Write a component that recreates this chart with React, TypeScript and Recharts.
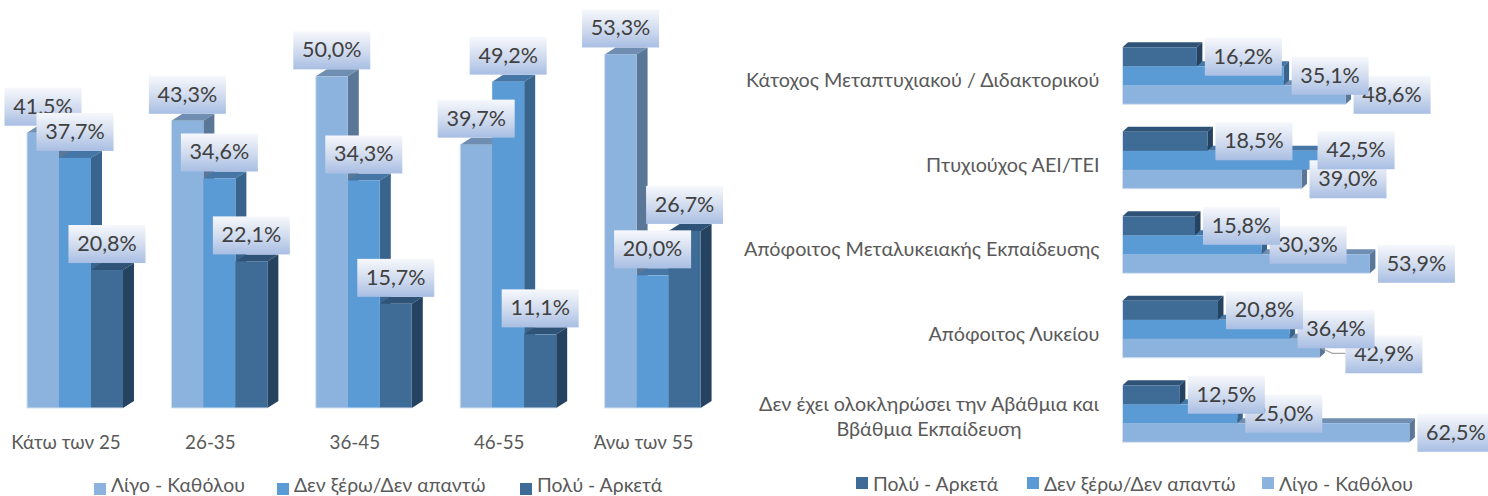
import { BarChart, Bar, XAxis, YAxis, Legend, LabelList } from 'recharts';

const FONT = 'Lato, "Open Sans", sans-serif';

const ageGroups = ['Κάτω των 25', '26-35', '36-45', '46-55', 'Άνω των 55'];
const ageLittle = [41.5, 43.3, 50.0, 39.7, 53.3];
const ageUnknown = [37.7, 34.6, 34.3, 49.2, 20.0];
const ageMuch = [20.8, 22.1, 15.7, 11.1, 26.7];

const eduLevels = [
  'Κάτοχος Μεταπτυχιακού / Διδακτορικού',
  'Πτυχιούχος ΑΕΙ/ΤΕΙ',
  'Απόφοιτος Μεταλυκειακής Εκπαίδευσης',
  'Απόφοιτος Λυκείου',
  'Δεν έχει ολοκληρώσει την Αβάθμια και Ββάθμια Εκπαίδευση',
];
const eduMuch = [16.2, 18.5, 15.8, 20.8, 12.5];
const eduUnknown = [35.1, 42.5, 30.3, 36.4, 25.0];
const eduLittle = [48.6, 39.0, 53.9, 42.9, 62.5];

const ageData = ageGroups.map((name, i) => ({
  name,
  little: ageLittle[i],
  unknown: ageUnknown[i],
  much: ageMuch[i],
}));
const eduData = eduLevels.map((name, i) => ({
  name,
  little: eduLittle[i],
  unknown: eduUnknown[i],
  much: eduMuch[i],
}));

const NAMES = { little: 'Λίγο - Καθόλου', unknown: 'Δεν ξέρω/Δεν απαντώ', much: 'Πολύ - Αρκετά' };
const COLORS = {
  little: { front: '#8CB2DE', top: '#6F8EB1', side: '#5A7798' },
  unknown: { front: '#5B9BD5', top: '#4676A5', side: '#38648E' },
  much: { front: '#3E6C96', top: '#2F5377', side: '#254261' },
};

// fake 3d box: front face plus top and right side, with a thin light edge where it meets the page
const box3d = (c: any, dx: number, dy: number, leftEdge: boolean, bottomEdge: boolean) => (props: any) => {
  const { x, y, width: w, height: h } = props;
  return (
    <g>
      <polygon fill={c.top} points={`${x},${y} ${x + w},${y} ${x + w + dx},${y - dy} ${x + dx},${y - dy}`} />
      <polygon fill={c.side} points={`${x + w},${y} ${x + w + dx},${y - dy} ${x + w + dx},${y + h - dy} ${x + w},${y + h}`} />
      <rect x={x} y={y} width={w} height={h} fill={c.front} />
      {leftEdge && <path d={`M${x},${y} V${y + h}`} stroke="#D5E1F1" strokeWidth={1} />}
      {bottomEdge && <path d={`M${x},${y + h} H${x + w}`} stroke="#D5E1F1" strokeWidth={1} />}
    </g>
  );
};

const fmt = (v: number) => v.toFixed(1).replace('.', ',') + '%';

const LabelBox = ({ cx, cy, value, gradId }: any) => (
  <g>
    <rect x={cx - 38.5} y={cy - 19} width={77} height={38} fill={`url(#${gradId})`} />
    <text x={cx} y={cy + 7} textAnchor="middle" fontFamily={FONT} fontSize={21.5} fill="#404040">
      {fmt(value)}
    </text>
  </g>
);

const topLabel = (gradId: string) => (p: any) => (
  <LabelBox cx={p.x + p.width / 2} cy={p.y - 26} value={p.value} gradId={gradId} />
);

// two labels were moved by hand in the original
const rightLabel = (gradId: string, key: string) => (p: any) => {
  let dx = 0;
  let dy = 0;
  if (key === 'unknown' && p.index === 1) {
    dx = -8;
    dy = -10;
  }
  if (key === 'little' && p.index === 3) {
    dx = 18;
    dy = 6;
  }
  const end = p.x + p.width;
  const mid = p.y + p.height / 2;
  return (
    <g>
      {key === 'little' && p.index === 3 && (
        <path d={`M${end + 2},${mid} L${end + 13},${mid + 5} H${end + 26}`} fill="none" stroke="#A6A6A6" strokeWidth={1.2} />
      )}
      <LabelBox cx={end + 46.5 + dx} cy={mid + dy} value={p.value} gradId={gradId} />
    </g>
  );
};

const Gradient = ({ id }: { id: string }) => (
  <defs>
    <linearGradient id={id} x1="0" y1="0" x2="0" y2="1">
      <stop offset="0%" stopColor="#F6F8FC" />
      <stop offset="50%" stopColor="#D3DDEF" />
      <stop offset="100%" stopColor="#A8BEE3" />
    </linearGradient>
  </defs>
);

const LegendRow = ({ items, swatchShift = 0 }: { items: { key: string; left: number }[]; swatchShift?: number }) => (
  <div style={{ position: 'relative', height: 24, fontFamily: FONT, fontSize: 19.4, color: '#595959' }}>
    {items.map((it) => (
      <div key={it.key} style={{ position: 'absolute', left: it.left, top: 0, height: 24, display: 'flex', alignItems: 'center', whiteSpace: 'nowrap' }}>
        <span style={{ width: 12, height: 12, background: (COLORS as any)[it.key].front, marginRight: 5, position: 'relative', top: swatchShift }} />
        {(NAMES as any)[it.key]}
      </div>
    ))}
  </div>
);

// the category labels sit a bit left of the bars, under the front faces
const AgeTick = ({ x, y, payload }: any) => (
  <text x={x - 9.5} y={y + 14} textAnchor="middle" fontFamily={FONT} fontSize={18.8} fill="#595959">
    {payload.value}
  </text>
);

const EduTick = ({ x, y, payload }: any) => {
  const words = String(payload.value).split(' ');
  const lines: string[] = [];
  let line = '';
  words.forEach((w) => {
    if ((line + ' ' + w).length > 37) {
      lines.push(line);
      line = w;
    } else {
      line = line ? line + ' ' + w : w;
    }
  });
  lines.push(line);
  if (lines.length === 1) {
    return (
      <text x={x + 6} y={y + 11.5} textAnchor="end" fontFamily={FONT} fontSize={19.8} fill="#595959">
        {lines[0]}
      </text>
    );
  }
  return (
    <text textAnchor="middle" fontFamily={FONT} fontSize={19.8} fill="#595959">
      {lines.map((l, i) => (
        <tspan key={i} x={x - 164.5} y={y - 3 + i * 25}>
          {l}
        </tspan>
      ))}
    </text>
  );
};

export default function App() {
  return (
    <div style={{ position: 'absolute', left: 0, top: 0, width: 1488, height: 496, overflow: 'hidden' }}>
      <div style={{ position: 'absolute', left: 0, top: 0 }}>
        <BarChart
          width={740}
          height={496}
          data={ageData}
          margin={{ top: 10, right: 14.7, bottom: 0, left: 3.3 }}
          barCategoryGap="16.4%"
          barGap={0}
        >
          <Gradient id="gradAge" />
          <XAxis
            dataKey="name"
            axisLine={false}
            tickLine={false}
            interval={0}
            height={88}
            tickMargin={21}
            tick={<AgeTick />}
          />
          <YAxis hide domain={[0, 60]} />
          <Legend
            layout="horizontal"
            verticalAlign="middle"
            align="center"
            wrapperStyle={{ left: 0, top: 472.5, width: 740 }}
            content={() => (
              <LegendRow
                swatchShift={4}
                items={[
                  { key: 'little', left: 94 },
                  { key: 'unknown', left: 277 },
                  { key: 'much', left: 520 },
                ]}
              />
            )}
          />
          <Bar dataKey="little" isAnimationActive={false} shape={box3d(COLORS.little, 11, 7, true, true)}>
            <LabelList dataKey="little" content={topLabel('gradAge')} />
          </Bar>
          <Bar dataKey="unknown" isAnimationActive={false} shape={box3d(COLORS.unknown, 11, 7, false, true)}>
            <LabelList dataKey="unknown" content={topLabel('gradAge')} />
          </Bar>
          <Bar dataKey="much" isAnimationActive={false} shape={box3d(COLORS.much, 11, 7, false, true)}>
            <LabelList dataKey="much" content={topLabel('gradAge')} />
          </Bar>
        </BarChart>
      </div>
      <div style={{ position: 'absolute', left: 740, top: 0 }}>
        <BarChart
          layout="vertical"
          width={748}
          height={496}
          data={eduData}
          margin={{ top: 33.25, right: 44.2, bottom: 40.25, left: 0 }}
          barCategoryGap="16.6%"
          barGap={0}
        >
          <Gradient id="gradEdu" />
          <XAxis type="number" hide domain={[0, 70]} />
          <YAxis
            type="category"
            dataKey="name"
            width={382.5}
            axisLine={false}
            tickLine={false}
            interval={0}
            tickMargin={23}
            tick={<EduTick />}
          />
          <Legend
            layout="horizontal"
            verticalAlign="middle"
            align="center"
            wrapperStyle={{ left: 0, top: 471, width: 748 }}
            content={() => (
              <LegendRow
                items={[
                  { key: 'much', left: 116 },
                  { key: 'unknown', left: 287 },
                  { key: 'little', left: 522 },
                ]}
              />
            )}
          />
          <Bar dataKey="much" zIndex={420} isAnimationActive={false} shape={box3d(COLORS.much, 5.5, 5, true, false)}>
            <LabelList dataKey="much" zIndex={2200} content={rightLabel('gradEdu', 'much')} />
          </Bar>
          <Bar dataKey="unknown" zIndex={410} isAnimationActive={false} shape={box3d(COLORS.unknown, 5.5, 5, true, false)}>
            <LabelList dataKey="unknown" zIndex={2100} content={rightLabel('gradEdu', 'unknown')} />
          </Bar>
          <Bar dataKey="little" zIndex={400} isAnimationActive={false} shape={box3d(COLORS.little, 5.5, 5, true, true)}>
            <LabelList dataKey="little" zIndex={2000} content={rightLabel('gradEdu', 'little')} />
          </Bar>
        </BarChart>
      </div>
    </div>
  );
}
